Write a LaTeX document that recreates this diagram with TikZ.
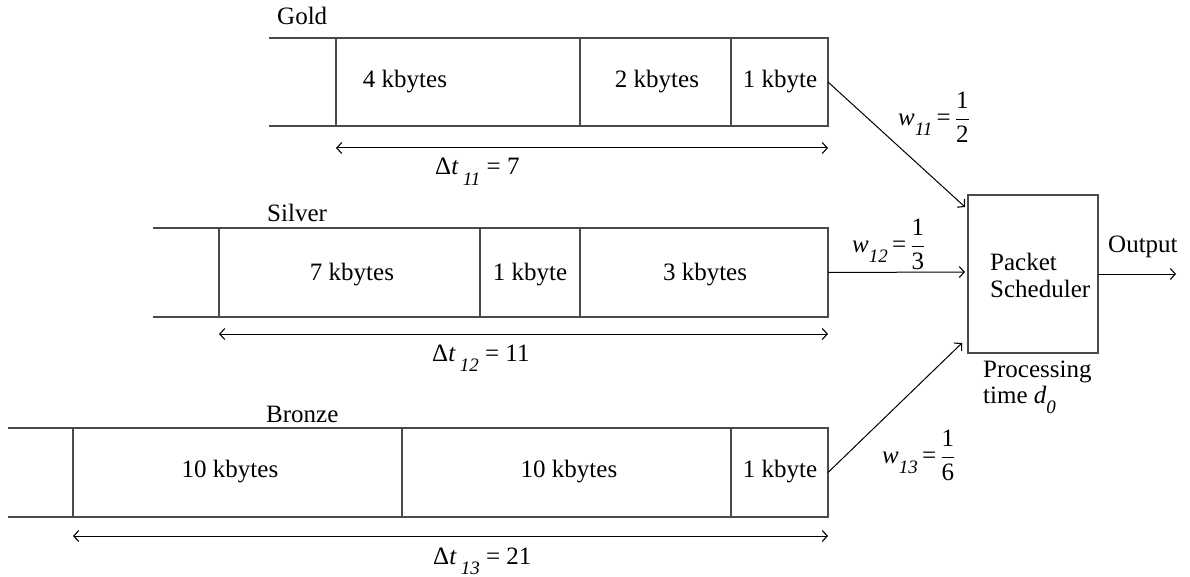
\documentclass[tikz,border=0pt]{standalone}
\usepackage{fontspec}
\setmainfont{Liberation Serif}
\usetikzlibrary{arrows.meta,calc}
\definecolor{qline}{HTML}{4A4A4A}
% italic, lowered subscript in the text font
\newcommand{\sbx}[1]{\raisebox{-0.42em}{\fontsize{19}{19}\selectfont\itshape #1}}
% full-size fraction with text-font digits
\newcommand{\wfrac}[2]{$\displaystyle\frac{\mbox{#1}}{\mbox{#2}}$}
\begin{document}
\begin{tikzpicture}[x=1pt,y=-1pt,
  font=\fontsize{25}{30}\selectfont,
  cell/.style={draw=qline, line width=1.2pt, inner sep=0pt, outer sep=0pt, anchor=north west},
  gate/.style={draw=qline, line width=1.2pt},
  lbl/.style={inner sep=0pt, anchor=base},
  tag/.style={inner sep=0pt, anchor=base west},
  tip/.style={-{Straight Barb[length=5pt,width=11pt,line width=1.1pt]}, line width=1pt},
  span/.style={{Straight Barb[length=5pt,width=11pt,line width=1.1pt]}-{Straight Barb[length=5pt,width=11pt,line width=1.1pt]}, line width=1pt}]
\useasboundingbox (0,0) rectangle (1190,577);

% ---- Gold queue ----
\node[cell, minimum width=244pt, minimum height=88pt] (g1) at (336,38) {};
\node[cell, minimum width=151pt, minimum height=88pt] (g2) at (580,38) {};
\node[cell, minimum width=97pt,  minimum height=88pt] (g3) at (731,38) {};
\coordinate (gt) at (269,38);
\coordinate (gb) at (269,126);
\draw[gate] (gt) -- (g1.north west);
\draw[gate] (gb) -- (g1.south west);
\node[tag] (gname) at (277,25) {Gold};
\node[lbl] (gl1) at (405,88) {4 kbytes};
\node[lbl] (gl2) at (657,88) {2 kbytes};
\node[lbl] (gl3) at (780,88) {1 kbyte};
\coordinate (gsl) at ($(g1.south west)+(0,22)$);
\coordinate (gsr) at ($(g3.south east)+(0,22)$);
\draw[span] (gsl) -- (gsr);
\node[tag] (gdt) at (435,175) {Δ\textit{t}\,\sbx{11} = 7};

% ---- Silver queue ----
\node[cell, minimum width=261pt, minimum height=89pt] (s1) at (219,228) {};
\node[cell, minimum width=100pt, minimum height=89pt] (s2) at (480,228) {};
\node[cell, minimum width=248pt, minimum height=89pt] (s3) at (580,228) {};
\coordinate (st) at (153,228);
\coordinate (sb) at (153,317);
\draw[gate] (st) -- (s1.north west);
\draw[gate] (sb) -- (s1.south west);
\node[tag] (sname) at (267,222) {Silver};
\node[lbl] (sl1) at (352,280) {7 kbytes};
\node[lbl] (sl2) at (530,280) {1 kbyte};
\node[lbl] (sl3) at (705,280) {3 kbytes};
\coordinate (ssl) at ($(s1.south west)+(0,17)$);
\coordinate (ssr) at ($(s3.south east)+(0,17)$);
\draw[span] (ssl) -- (ssr);
\node[tag] (sdt) at (432,361) {Δ\textit{t}\,\sbx{12} = 11};

% ---- Bronze queue ----
\node[cell, minimum width=329pt, minimum height=89pt] (b1) at (73,428) {};
\node[cell, minimum width=329pt, minimum height=89pt] (b2) at (402,428) {};
\node[cell, minimum width=97pt,  minimum height=89pt] (b3) at (731,428) {};
\coordinate (bt) at (8,428);
\coordinate (bb) at (8,517);
\draw[gate] (bt) -- (b1.north west);
\draw[gate] (bb) -- (b1.south west);
\node[tag] (bname) at (266,422) {Bronze};
\node[lbl] (bl1) at (230,477) {10 kbytes};
\node[lbl] (bl2) at (569,477) {10 kbytes};
\node[lbl] (bl3) at (780,477) {1 kbyte};
\coordinate (bsl) at ($(b1.south west)+(0,19)$);
\coordinate (bsr) at ($(b3.south east)+(0,19)$);
\draw[span] (bsl) -- (bsr);
\node[tag] (bdt) at (433,564) {Δ\textit{t}\,\sbx{13} = 21};

% ---- Scheduler ----
\node[draw=qline, line width=1.2pt, minimum width=130pt, minimum height=158pt,
      inner sep=0pt, outer sep=0pt, anchor=north west] (sch) at (968,195) {};
\node[tag] (pk) at (990,270) {Packet};
\node[tag] (sc) at (990,297) {Scheduler};
\node[tag] (pt1) at (983,377) {Processing};
\node[tag] (pt2) at (983,403) {time \textit{d}\sbx{0}};
\node[tag] (out) at (1108,252) {Output};
\coordinate (oend) at (1176,274);
\draw[tip] (sch.east) -- (oend);

% ---- Weighted inputs ----
\coordinate (gin) at ($(sch.north west)+(-3,12)$);
\coordinate (sin) at ($(sch.west)+(-3,-2)$);
\coordinate (bin) at ($(sch.south west)+(-6,-10)$);
\draw[tip] (g3.east) -- (gin);
\draw[tip] (s3.east) -- (sin);
\draw[tip] (b3.east) -- (bin);
\node[inner sep=0pt, anchor=west] (w1) at (898,117) {\textit{w}\sbx{11}\,=\,\wfrac{1}{2}};
\node[inner sep=0pt, anchor=west] (w2) at (852,244) {\textit{w}\sbx{12}\,=\,\wfrac{1}{3}};
\node[inner sep=0pt, anchor=west] (w3) at (882,455) {\textit{w}\sbx{13}\,=\,\wfrac{1}{6}};
\end{tikzpicture}
\end{document}
